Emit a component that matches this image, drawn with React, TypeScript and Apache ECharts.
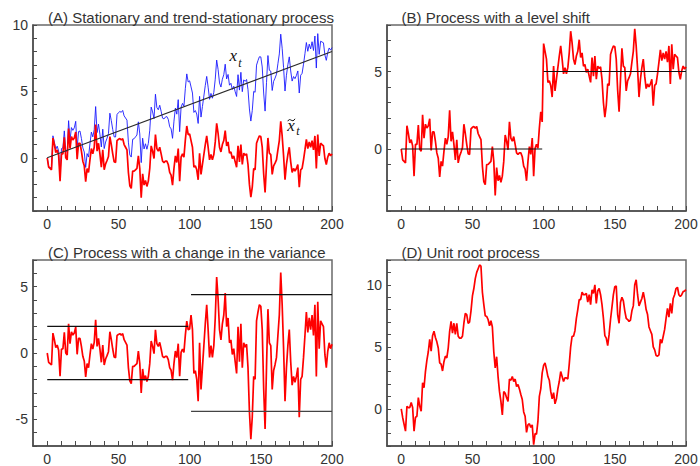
import React, { useEffect, useRef } from "react";
import * as echarts from "echarts";

// Stationary component (t = 0..200), shared by panels A, B and C
const STATIONARY = [
  0, -0.7, -0.8, -0.9, 1.5, 1.0, 0.4, 0.6, 0.2, -1.75,
  0.3, 0.3, 1.55, 0.0, -0.15, 2.2, 0.7, 1.6, 1.35, 1.5,
  1.95, -0.1, 1.1, 1.1, 0.5, -0.25, -0.6, -1.8, -0.8, -1.1,
  -0.15, 0.7, 0.3, 0.8, 2.5, 0.5, 1.1, 0.3, -0.7, 0.6,
  -0.9, -0.45, -0.2, 0.1, 1.6, 1.0, 0.3, -0.3, -0.35, 1.3,
  1.4, 1.45, 1.35, 1.45, 1.0, 0.8, 0.6, -1.1, -2.1, -2.3,
  -1.0, -1.0, -0.9, -0.8, 0.15, -0.8, -3.0, -1.2, -2.05, -1.7,
  -2.15, -1.75, -0.8, 0.9, 0.5, -0.05, 1.75, 0.7, 0.5, 0.8,
  0.3, -0.25, -0.35, -0.25, -0.25, -0.5, -1.1, -1.3, -2.05, -0.8,
  0.15, -0.35, 0.7, -1.75, 0.05, 0.3, 0.05, 1.35, 2.4, 1.75,
  1.8, 1.3, 0.8, -0.7, -0.6, -0.9, -1.65, 0.35, -1.25, -0.5,
  0.25, 1.0, 1.65, 0.8, -0.15, 0.25, -0.15, 0.25, 1.2, 2.6,
  1.85, 0.8, 0.45, 1.0, 1.3, 2.05, 0.9, 1.2, 0.35, 0.45,
  -0.05, 0.15, -0.3, -0.7, 0.9, -0.3, 1.0, -0.5, 0.35, 0.2,
  0.3, -0.5, -2.0, -2.95, -2.2, -0.8, -0.9, 1.1, 1.4, 1.65,
  1.6, 0.8, -1.2, -2.6, -0.5, 1.5, 0.35, 0.25, -1.25, -0.6,
  -0.4, -0.15, 0.6, 1.3, 2.75, 1.65, 0.15, -1.65, -0.5, 0.25,
  0.8, -0.3, -1.1, -0.8, -1.0, -0.8, -0.5, -2.2, -0.9, -0.8,
  -0.15, 0.6, 1.4, 0.7, 1.2, 0.8, 1.3, 0.6, 1.65, -0.8,
  1.75, 0.15, 1.1, 1.0, 0.9, -0.05, -0.5, 0.05, 0.35, 0.15,
  0.3,
];

// Unit root process (t = 0..200), panel D
const RANDOM_WALK = [
  0, -0.7, -1.25, -1.8, 0.2, 0.1, 0.1, 0.5, 0.1, -1.8,
  -0.7, -0.6, 0.9, 0.2, -0.2, 2.1, 1.7, 3.0, 3.9, 4.6,
  5.6, 4.65, 5.9, 6.25, 5.75, 5.4, 4.9, 3.7, 3.6, 3.05,
  3.8, 4.25, 4.1, 4.9, 6.25, 7.05, 6.1, 6.9, 6.0, 6.9,
  5.85, 5.7, 5.7, 5.85, 6.9, 7.7, 7.6, 6.9, 7.0, 7.9,
  9.1, 9.7, 10.5, 11.0, 11.3, 11.6, 11.5, 9.4, 8.4, 7.5,
  7.45, 7.2, 6.7, 7.1, 6.6, 4.6, 3.3, 4.2, 2.6, 1.4,
  0.6, -0.5, 1.4, 1.25, 0.9, 0.6, 2.4, 2.3, 2.6, 2.2,
  2.4, 1.8, 1.95, 1.6, 1.15, 0.75, -0.25, -0.6, -1.9, -1.3,
  -1.2, -1.5, -1.3, -2.9, -2.0, -2.05, -1.0, 1.0, 1.6, 2.9,
  3.5, 3.7, 3.2, 2.6, 2.3, 1.4, 0.8, 1.3, 0.4, 0.8,
  1.6, 2.2, 3.0, 2.6, 2.2, 2.5, 2.5, 2.4, 3.6, 5.0,
  5.85, 5.85, 6.3, 7.3, 8.0, 8.8, 8.8, 9.4, 9.2, 9.2,
  9.3, 8.6, 9.2, 8.4, 9.6, 9.3, 10.0, 8.5, 9.5, 9.7,
  9.2, 8.4, 7.3, 5.9, 5.7, 5.1, 6.0, 7.2, 8.2, 9.2,
  9.85, 9.9, 7.6, 6.9, 8.6, 9.0, 8.7, 7.9, 7.3, 7.2,
  7.05, 7.15, 7.9, 8.3, 10.0, 10.4, 9.2, 8.3, 8.6, 8.9,
  9.4, 8.8, 8.0, 7.6, 6.6, 6.3, 6.0, 5.0, 4.75, 4.3,
  4.25, 4.35, 5.6, 5.3, 5.85, 6.4, 7.3, 8.1, 7.4, 8.5,
  7.7, 8.9, 9.2, 9.7, 9.8, 9.2, 9.05, 9.2, 9.45, 9.5,
  9.6,
];

// Model constants
const TREND_SLOPE = 0.04; // deterministic trend of x_t
const SHIFT_AT = 100; // level shift date
const SHIFT_SIZE = 5; // size of the level shift
const VAR_BREAK = 100; // variance break date
const SD_RATIO = 2.2; // std. dev. after / before the break
const BAND_BEFORE = 2; // +-2 sd band, first regime
const BAND_AFTER = 4.4; // +-2 sd band, second regime

const TITLES = [
  "(A) Stationary and trend-stationary process",
  "(B) Process with a level shift",
  "(C) Process with a change in the variance",
  "(D) Unit root process",
];

const X_MIN = -10;
const X_MAX = 200;
const X_TICKS = [0, 10, 20, 30, 40, 50, 60, 70, 80, 90, 100, 110, 120, 130, 140, 150, 160, 170, 180, 190, 200];
const X_LABELS = [0, 50, 100, 150, 200];

const Y_RANGES: [number, number][] = [[-4, 10], [-4, 8], [-7, 7], [-3, 12]];
const Y_LABELS = [[0, 5, 10], [0, 5], [-5, 0, 5], [0, 5, 10]];

const GRID_POS = [
  { left: 33, top: 25 },
  { left: 387, top: 25 },
  { left: 33, top: 260 },
  { left: 387, top: 260 },
];
const GRID_W = 299;
const GRID_H = 186;

const RED = "#ff0000";
const BLUE = "#1a1aff";
const INK = "#333333";
const AXIS = "#4a4a4a";
const FONT = "Liberation Sans";
const SERIF = "Liberation Serif";

function intRange(a: number, b: number) {
  const out: number[] = [];
  for (let v = a; v <= b; v++) out.push(v);
  return out;
}

function lineSeries(i: number, data: number[][], color: string, width: number, z = 2) {
  return {
    type: "line",
    xAxisIndex: i,
    yAxisIndex: i,
    data,
    showSymbol: false,
    symbol: "none",
    silent: true,
    z,
    lineStyle: { color, width },
  };
}

function buildOption() {
  const t = STATIONARY.map((_, k) => k);

  const stationary = t.map((k) => [k, STATIONARY[k]]);
  const trendStationary = t.map((k) => [k, STATIONARY[k] + TREND_SLOPE * k]);
  const levelShift = t.map((k) => [k, STATIONARY[k] + (k >= SHIFT_AT ? SHIFT_SIZE : 0)]);
  const varChange = t.map((k) => [k, k > VAR_BREAK ? STATIONARY[k] * SD_RATIO : STATIONARY[k]]);
  const unitRoot = RANDOM_WALK.map((v, k) => [k, v]);

  const grid = GRID_POS.map((p) => ({
    left: p.left,
    top: p.top,
    width: GRID_W,
    height: GRID_H,
    show: true,
    borderColor: "#6a6a6a",
    borderWidth: 1.5,
    backgroundColor: "transparent",
    containLabel: false,
    outerBoundsMode: "none",
  }));

  const xAxis = GRID_POS.map((_, i) => ({
    type: "value",
    gridIndex: i,
    min: X_MIN,
    max: X_MAX,
    axisLine: { show: true, onZero: false, lineStyle: { color: AXIS, width: 1.5 } },
    axisTick: { show: true, inside: true, length: 5, customValues: X_TICKS, lineStyle: { color: AXIS, width: 1 } },
    axisLabel: { customValues: X_LABELS, fontSize: 14, color: INK, fontFamily: FONT, margin: 6 },
    splitLine: { show: false },
  }));

  const yAxis = GRID_POS.map((_, i) => ({
    type: "value",
    gridIndex: i,
    min: Y_RANGES[i][0],
    max: Y_RANGES[i][1],
    axisLine: { show: true, onZero: false, lineStyle: { color: AXIS, width: 1.5 } },
    axisTick: {
      show: true,
      inside: true,
      length: 4,
      customValues: intRange(Y_RANGES[i][0], Y_RANGES[i][1]),
      lineStyle: { color: AXIS, width: 1 },
    },
    axisLabel: { customValues: Y_LABELS[i], fontSize: 14, color: INK, fontFamily: FONT, margin: 5 },
    splitLine: { show: false },
  }));

  const series = [
    // (A)
    lineSeries(0, trendStationary, BLUE, 0.9, 2),
    lineSeries(0, stationary, RED, 1.7, 3),
    lineSeries(0, [[0, 0], [X_MAX, TREND_SLOPE * X_MAX]], "#2a2a2a", 1.1, 4),
    // (B)
    lineSeries(1, levelShift, RED, 1.7, 3),
    lineSeries(1, [[0, 0], [SHIFT_AT - 1, 0]], "#111111", 1.2, 4),
    lineSeries(1, [[SHIFT_AT, SHIFT_SIZE], [X_MAX, SHIFT_SIZE]], "#111111", 1.2, 4),
    // (C)
    lineSeries(2, varChange, RED, 1.7, 3),
    lineSeries(2, [[0, BAND_BEFORE], [VAR_BREAK - 1, BAND_BEFORE]], "#111111", 1.2, 4),
    lineSeries(2, [[0, -BAND_BEFORE], [VAR_BREAK - 1, -BAND_BEFORE]], "#111111", 1.2, 4),
    lineSeries(2, [[VAR_BREAK + 1, BAND_AFTER], [X_MAX, BAND_AFTER]], "#111111", 1.2, 4),
    lineSeries(2, [[VAR_BREAK + 1, -BAND_AFTER], [X_MAX, -BAND_AFTER]], "#444444", 1.2, 4),
    // (D)
    lineSeries(3, unitRoot, RED, 1.7, 3),
  ];

  // Panel titles start above t = 0
  const titleX = [48, 401.5, 48, 401.5];
  const titleY = [17.5, 17.5, 252.5, 252.5];
  const titles = TITLES.map((text, i) => ({
    type: "text",
    x: titleX[i],
    y: titleY[i],
    silent: true,
    style: {
      text,
      fill: INK,
      font: `15px "${FONT}"`,
      align: "left",
      verticalAlign: "middle",
    },
  }));

  const italic = (text: string, x: number, y: number, size: number) => ({
    type: "text",
    x,
    y,
    silent: true,
    style: {
      text,
      fill: "#111111",
      font: `italic ${size}px "${SERIF}"`,
      align: "center",
      verticalAlign: "middle",
    },
  });

  const annotations = [
    italic("x", 233.3, 55.6, 17),
    italic("t", 239.8, 63, 12),
    italic("x", 291, 125.4, 17),
    italic("t", 298, 131, 12),
    // tilde accent over the second x
    {
      type: "bezierCurve",
      silent: true,
      shape: { x1: 287.8, y1: 121.2, cpx1: 290, cpy1: 116.5, cpx2: 292.2, cpy2: 124, x2: 295, y2: 118.8 },
      style: { stroke: "#111111", lineWidth: 1, fill: "none" },
    },
  ];

  return {
    animation: false,
    backgroundColor: "#ffffff",
    textStyle: { fontFamily: FONT },
    grid,
    xAxis,
    yAxis,
    series,
    graphic: [...titles, ...annotations],
  };
}

export default function App() {
  const ref = useRef<HTMLDivElement>(null);

  useEffect(() => {
    if (!ref.current) return;
    const chart = echarts.init(ref.current, undefined, { renderer: "svg" });
    chart.setOption(buildOption() as any);
    return () => chart.dispose();
  }, []);

  return (
    <div
      ref={ref}
      style={{ position: "absolute", left: 0, top: 0, width: 700, height: 466, background: "#fff" }}
    />
  );
}
